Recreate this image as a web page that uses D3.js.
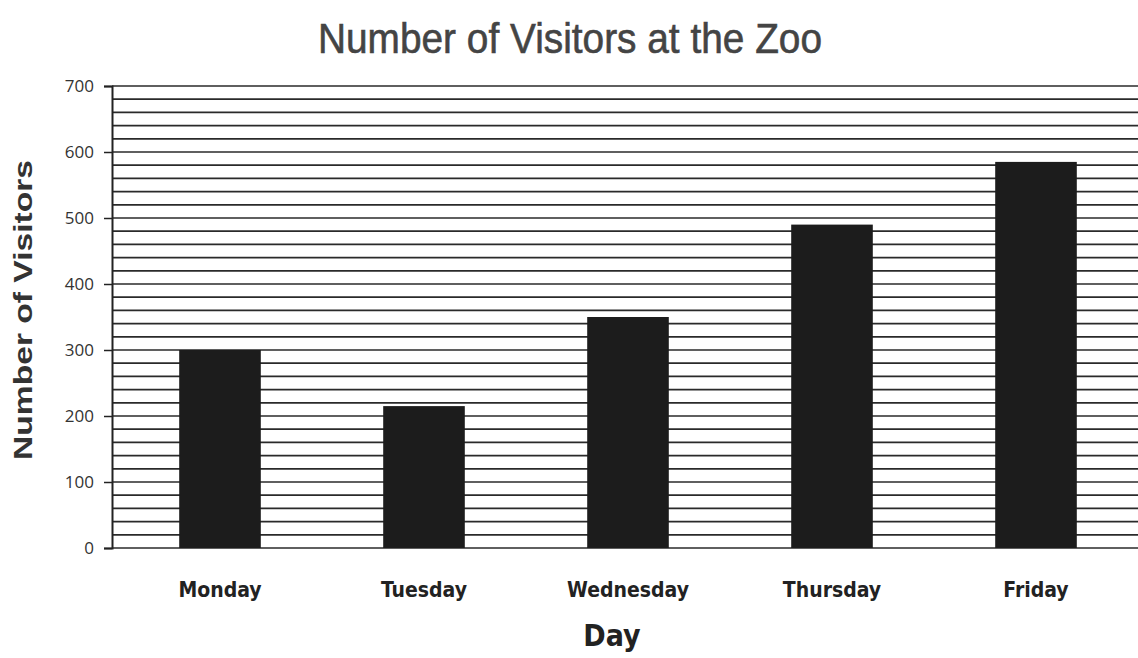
<!DOCTYPE html>
<html>
<head>
<meta charset="utf-8">
<script src="https://d3js.org/d3.v7.min.js"></script>
<style>
  body { margin: 0; background: #fff; }
  svg { display: block; }
</style>
</head>
<body>
<svg id="svg1" width="1138" height="658"></svg>
<script>
var days = ['Monday', 'Tuesday', 'Wednesday', 'Thursday', 'Friday'];
var visitors = [300, 215, 350, 490, 585];
var yTicks = [0, 100, 200, 300, 400, 500, 600, 700];
var gridValues = d3.range(0, 701, 20);

var width = 1138, height = 658;
var marginLeft = 112, marginTop = 86, marginRight = 0, marginBottom = 110;

var svg = d3.select('svg');

var g = svg.append('g')
    .attr('transform', 'translate(' + marginLeft + ',' + marginTop + ')');

var innerW = width - marginLeft - marginRight;
var innerH = height - marginTop - marginBottom;

var x = d3.scaleBand().domain(days).range([6, innerW]).paddingInner(0.6).paddingOuter(0.3);
var y = d3.scaleLinear().domain([0, 700]).range([innerH, 0]);

// horizontal gridlines every 20
g.selectAll('line.grid')
    .data(gridValues)
    .enter()
    .append('line')
    .attr('class', 'grid')
    .attr('x1', 0)
    .attr('x2', innerW)
    .attr('y1', function(d){ return y(d); })
    .attr('y2', function(d){ return y(d); })
    .attr('stroke', '#2a2a2a')
    .attr('stroke-width', 1.7);

// bars
g.selectAll('rect.bar')
    .data(visitors)
    .enter()
    .append('rect')
    .attr('class', 'bar')
    .attr('x', function(d, i){ return x(days[i]); })
    .attr('y', function(d){ return y(d); })
    .attr('width', x.bandwidth())
    .attr('height', function(d){ return innerH - y(d); })
    .attr('fill', '#1c1c1c');

// y axis
var yAxis = g.append('g')
    .call(d3.axisLeft(y).tickValues(yTicks).tickSize(8).tickPadding(10));
yAxis.select('.domain').attr('stroke', '#222').attr('stroke-width', 2);
yAxis.selectAll('.tick line').attr('stroke', '#222').attr('stroke-width', 1.5);
yAxis.selectAll('.tick text')
    .attr('fill', '#333')
    .style('font-family', '"Open Sans", sans-serif')
    .style('font-size', '17px');

// x labels
var xAxis = g.append('g')
    .attr('transform', 'translate(0,' + innerH + ')')
    .call(d3.axisBottom(x).tickSize(0).tickPadding(34));
xAxis.select('.domain').remove();
xAxis.selectAll('.tick text')
    .attr('fill', '#222')
    .style('font-family', '"DejaVu Sans Condensed", "DejaVu Sans", sans-serif')
    .style('font-weight', '600')
    .style('font-size', '21px');

// title
svg.append('text')
    .attr('x', 570)
    .attr('y', 53)
    .attr('text-anchor', 'middle')
    .attr('fill', '#444')
    .attr('stroke', '#444')
    .attr('stroke-width', 0.6)
    .attr('textLength', 504)
    .attr('lengthAdjust', 'spacingAndGlyphs')
    .style('font-family', '"Liberation Sans", sans-serif')
    .style('font-size', '42px')
    .text('Number of Visitors at the Zoo');

// y axis title
svg.append('text')
    .attr('transform', 'translate(32,310) rotate(-90)')
    .attr('text-anchor', 'middle')
    .attr('fill', '#333')
    .attr('textLength', 300)
    .attr('lengthAdjust', 'spacingAndGlyphs')
    .style('font-family', '"Liberation Sans", sans-serif')
    .style('font-weight', 'bold')
    .style('font-size', '26px')
    .text('Number of Visitors');

// x axis title
svg.append('text')
    .attr('x', 612)
    .attr('y', 646)
    .attr('text-anchor', 'middle')
    .attr('fill', '#222')
    .style('font-family', '"DejaVu Sans Condensed", "DejaVu Sans", sans-serif')
    .style('font-weight', '600')
    .style('font-size', '30px')
    .text('Day');
</script>
</body>
</html>
